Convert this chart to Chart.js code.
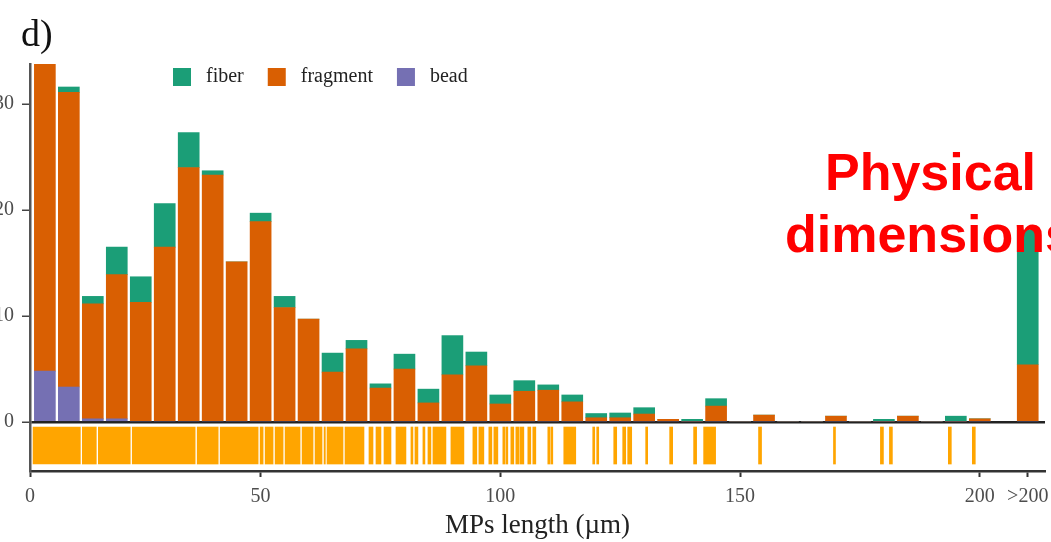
<!DOCTYPE html>
<html><head><meta charset="utf-8">
<script src="https://cdn.jsdelivr.net/npm/chart.js@4.4.1/dist/chart.umd.min.js"></script>
<style>html,body{margin:0;padding:0;background:#fff;}#wrap{position:relative;width:1051px;height:542px;}</style>
</head><body><div id="wrap"><canvas id="c"></canvas></div>
<script>
// ---- data ----
const binCenters = [5,10,15,20,25,30,35,40,45,50,55,60,65,70,75,80,85,90,95,100,105,110,115,120,125,130,135,140,145,150,155,160,165,170,175,180,185,190,195,200,210];
const fragment = [29.2,27.8,10.85,13.6,11.3,16.5,24.0,23.3,15.1,18.9,10.8,9.7,4.7,6.9,3.2,5.0,1.8,4.45,5.3,1.7,2.9,3.0,1.9,0.4,0.4,0.75,0.25,0,1.5,0,0.65,0,0,0.55,0,0,0.55,0,0,0.3,5.4];
const fiber    = [0,0.5,0.7,2.6,2.4,4.1,3.3,0.4,0,0.8,1.05,0,1.8,0.8,0.4,1.4,1.3,3.7,1.3,0.85,1.0,0.5,0.65,0.4,0.45,0.6,0,0.25,0.7,0,0,0,0,0,0,0.25,0,0,0.55,0,12.7];
const bead     = [4.8,3.3,0.3,0.3,0,0,0,0,0,0,0,0,0,0,0,0,0,0,0,0,0,0,0,0,0,0,0,0,0,0,0,0,0,0,0,0,0,0,0,0,0];
const seriesLabels = ['fiber','fragment','bead'];
const seriesColors = ['#1b9e77','#d95f02','#7570b3'];
const xTickValues = [0,50,100,150,200,210];
const xTickLabels = ['0','50','100','150','200','>200'];
const yTickValues = [0,10,20,30];
// individual length marks (rug), as [start,end] in µm read from the strip
const rugSegments = [[2.54,12.40],[12.81,15.73],[16.15,22.81],[23.23,36.35],[36.77,41.15],[41.56,49.48],[49.9,50.52],[50.94,52.6],[53.02,54.69],[55.1,58.23],[58.65,60.94],[61.35,62.81],[63.23,63.5],[63.85,67.19],[67.6,71.56],
[72.6,73.44],[74.06,75.1],[75.73,77.19],[78.23,80.31],[81.35,81.77],[82.19,82.81],[83.85,84.27],[84.9,85.52],[85.94,88.65],[89.69,92.4],
[94.27,95.1],[95.52,96.56],[97.6,98.23],[98.65,99.48],[100.52,100.94],[101.15,101.56],[102.19,102.81],[103.23,103.85],[104.06,104.9],[105.73,106.35],[106.77,107.4],
[109.9,110.31],[110.52,110.94],[113.23,115.73],[119.27,119.69],[120.1,120.52],[123.65,124.27],[125.52,126.15],[126.56,127.4],[130.31,130.73],[135.31,135.94],[140.31,140.94],[142.4,144.9],
[153.85,154.48],[169.48,169.9],[179.27,179.9],[181.15,181.77],[193.44,194.06],[198.44,199.06]];
const panelLabel = 'd)';
const xTitle = 'MPs length (µm)';
const overlayLines = ['Physical','dimensions'];

// ---- chart ----
const serif = '"Liberation Serif", "Times New Roman", serif';
const X_MIN = 1.9, X_MAX = 213.6, Y_MAX = 33.77, RUG_LEVEL = 0.54;
const mk = arr => binCenters.map((x,i)=>({x:x, y:arr[i]}));

const decor = {
  id:'decor',
  afterDraw(chart){
    const ctx = chart.ctx;
    ctx.save();
    ctx.fillStyle = '#111';
    ctx.font = '38px ' + serif;
    ctx.textBaseline = 'alphabetic';
    ctx.textAlign = 'left';
    ctx.fillText(panelLabel, 21, 46);
    ctx.font = '20px ' + serif;
    ctx.textBaseline = 'middle';
    let x = 173;
    seriesLabels.forEach((lab,i)=>{
      ctx.fillStyle = seriesColors[i];
      ctx.fillRect(x, 68, 18, 18);
      ctx.fillStyle = '#222';
      ctx.fillText(lab, x+33, 77);
      x = x + 33 + ctx.measureText(lab).width + 24;
    });
    ctx.fillStyle = '#ff0000';
    ctx.font = 'bold 52px "Liberation Sans", Arial, sans-serif';
    ctx.textBaseline = 'alphabetic';
    ctx.fillText(overlayLines[0], 825, 190);
    ctx.fillText(overlayLines[1], 785, 252);
    ctx.restore();
  }
};

new Chart(document.getElementById('c'), {
  type:'bar',
  data:{
    datasets:[
      {label:seriesLabels[2], data:mk(bead), backgroundColor:seriesColors[2], stack:'main', yAxisID:'y', barThickness:21, borderWidth:0},
      {label:seriesLabels[1], data:mk(fragment), backgroundColor:seriesColors[1], stack:'main', yAxisID:'y', barThickness:21, borderWidth:0},
      {label:seriesLabels[0], data:mk(fiber), backgroundColor:seriesColors[0], stack:'main', yAxisID:'y', barThickness:21, borderWidth:0},
      {label:'rug', indexAxis:'y', grouped:false, yAxisID:'yRug', xAxisID:'x',
       data: rugSegments.map(s=>({x:[s[0],s[1]], y:RUG_LEVEL})),
       backgroundColor:'#ffa500', borderWidth:0, barThickness:37}
    ]
  },
  options:{
    responsive:true, maintainAspectRatio:false, animation:false,
    layout:{padding:{top:64,right:6,left:0,bottom:0}},
    plugins:{legend:{display:false}, tooltip:{enabled:false}, title:{display:false}},
    scales:{
      x:{type:'linear', position:'bottom', min:X_MIN, max:X_MAX, offset:false, grace:0,
         afterBuildTicks(s){ s.ticks = xTickValues.map(v=>({value: Math.max(v, s.min)})); },
         afterFit(s){ s.height = 71; s.paddingLeft = 0; s.paddingRight = 0; },
         ticks:{autoSkip:false, maxRotation:0, padding:8, color:'#4d4d4d', font:{family:serif, size:20},
                callback:(v,i)=>xTickLabels[i]},
         grid:{display:true, offset:false, drawOnChartArea:false, drawTicks:true, tickLength:6, tickColor:'#333', tickWidth:2},
         border:{display:true, color:'#333', width:2.5},
         title:{display:true, text:xTitle, color:'#222', font:{family:serif, size:27}, padding:{top:-4,bottom:0}}
      },
      y:{type:'linear', position:'left', stack:'left', stackWeight:358, weight:2, stacked:true, min:0, max:Y_MAX,
         afterBuildTicks(s){ s.ticks = yTickValues.map(v=>({value:v})); },
         afterFit(s){ s.width = 30; s.paddingTop = 0; s.paddingBottom = 0; },
         ticks:{padding:8, color:'#4d4d4d', font:{family:serif, size:20}},
         grid:{display:true, drawTicks:true, tickLength:8, tickColor:'#444', tickWidth:1.5,
               color:(c)=> (c.tick && c.tick.value===0) ? '#222' : 'rgba(0,0,0,0)', lineWidth:2.5},
         border:{display:true, color:'#555', width:2.5}
      },
      yRug:{type:'linear', axis:'y', position:'left', stack:'left', stackWeight:49, weight:1, min:0, max:1,
         afterFit(s){ s.width = 30; s.paddingTop = 0; s.paddingBottom = 0; },
         ticks:{display:false},
         grid:{display:false},
         border:{display:true, color:'#555', width:2.5}
      }
    }
  },
  plugins:[decor]
});
</script></body></html>
